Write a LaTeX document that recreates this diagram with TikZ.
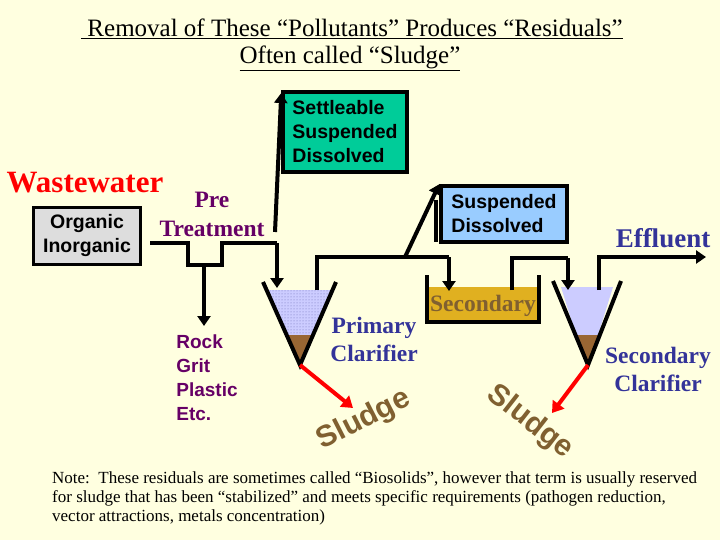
\documentclass[tikz,border=0pt]{standalone}
\usepackage{fontspec}
\setmainfont{Liberation Serif}
\setsansfont{Liberation Sans}
\usetikzlibrary{patterns,arrows.meta}
\definecolor{bg}{RGB}{255,255,224}
\definecolor{teal1}{RGB}{0,204,153}
\definecolor{lblue}{RGB}{153,204,255}
\definecolor{lgrey}{RGB}{221,221,221}
\definecolor{gold}{RGB}{224,176,32}
\definecolor{mud}{RGB}{153,102,51}
\definecolor{lav}{RGB}{204,204,255}
\definecolor{purp}{RGB}{102,0,102}
\definecolor{navy}{RGB}{51,51,153}
\definecolor{brn}{RGB}{128,96,48}
\tikzset{
  flow/.style={line width=4pt,-{Triangle[length=10pt,width=13pt]}},
  pipe/.style={line width=4pt},
  sbox/.style={draw,line width=3.5pt,align=left,font=\sffamily\bfseries\fontsize{19.5}{24}\selectfont,inner sep=2pt},
  lbl/.style={align=center},
  slab/.style={font=\sffamily\bfseries\fontsize{19}{24}\selectfont,align=left,text=purp},
  red/.style={draw=red,line width=4pt,-{Triangle[length=11pt,width=14pt]}}
}
\begin{document}
\begin{tikzpicture}[x=1pt,y=1pt]
\fill[bg] (0,0) rectangle (720,-540);
\useasboundingbox (0,0) rectangle (720,-540);
% title
\node (t1) at (352,-29) {\fontsize{25}{28}\selectfont\underline{\ Removal of These “Pollutants” Produces “Residuals”}};
\node (t2) at (350,-58) {\fontsize{25}{28}\selectfont\underline{Often called “Sludge”}};
% boxes
\node[sbox,fill=teal1,minimum width=124pt,minimum height=80pt] (set) at (345,-132) {Settleable\\Suspended\\Dissolved};
\node[sbox,fill=lblue,minimum width=126pt,minimum height=56pt] (sus) at (504,-214) {Suspended\\Dissolved};
\node[sbox,fill=lgrey,line width=2.5pt,align=center,minimum width=107pt,minimum height=57pt] (org) at (87,-236) {Organic\\Inorganic};
\node[lbl,text=red,font=\bfseries\fontsize{31}{34}\selectfont] (ww) at (85,-183) {Wastewater};
\node[lbl,text=purp,font=\fontsize{23.5}{29}\selectfont\bfseries] (pre) at (212,-214) {Pre\\Treatment};
\node[slab] (rock) at (207,-378) {Rock\\Grit\\Plastic\\Etc.};
\node[lbl,text=navy,font=\fontsize{23.5}{28}\selectfont\bfseries] (pc) at (374,-339) {Primary\\Clarifier};
\node[lbl,text=navy,font=\fontsize{23.5}{28}\selectfont\bfseries] (sc) at (658,-369) {Secondary\\Clarifier};
\node[lbl,text=navy,font=\fontsize{27}{30}\selectfont\bfseries] (eff) at (663,-238) {Effluent};
% primary clarifier
\fill[lav] (266,-290) -- (333,-290) -- (314,-335) -- (286,-335) -- cycle;
\fill[pattern=dots,pattern color=navy!70] (266,-290) -- (333,-290) -- (314,-335) -- (286,-335) -- cycle;
\fill[mud] (286,-335) -- (314,-335) -- (300,-365) -- cycle;
\draw[line width=4pt] (263,-282) -- (300,-365) -- (336,-282);
\coordinate (ptip) at (300,-365);
% secondary tank
\fill[gold] (427,-287) rectangle (539,-321);
\draw[line width=4pt] (427,-275) -- (427,-322) -- (539,-322) -- (539,-275);
\node[font=\bfseries\fontsize{23.5}{26}\selectfont,text=brn] (sec) at (483,-306) {Secondary};
% secondary clarifier
\fill[lav] (561,-287) -- (613,-287) -- (598,-335) -- (576,-335) -- cycle;
\fill[mud] (576,-335) -- (598,-335) -- (588,-365) -- cycle;
\draw[line width=4pt] (553,-281) -- (588,-365) -- (621,-281);
\coordinate (stip) at (588,-365);
% flow lines
\draw[pipe] (150,-243) -- (188,-243) -- (188,-265) -- (222,-265) -- (222,-243) -- (277,-243);
\draw[flow] (277,-243) -- (277,-288);
\draw[flow] (204,-265) -- (204,-326);
\draw[flow] (275,-232) -- (set.west |- 0,-93);
\draw[pipe] (317,-290) -- (317,-257) -- (449,-257);
\draw[flow] (449,-257) -- (449,-291);
\draw[flow] (405,-257) -- (sus.north west);
\draw[pipe] (436,-200) -- (436,-242);
\draw[pipe] (512,-290) -- (512,-258) -- (568,-258);
\draw[flow] (568,-258) -- (568,-290);
\draw[flow] (599,-290) -- (599,-257) -- (706,-257);
% sludge
\coordinate (s1) at (353,-408);
\coordinate (s2) at (552,-413);
\draw[red] (ptip) -- (s1);
\draw[red] (stip) -- (s2);
\node[font=\sffamily\bfseries\fontsize{30}{32}\selectfont,text=brn,rotate=27] (sl1) at (364,-420) {Sludge};
\node[font=\sffamily\bfseries\fontsize{30}{32}\selectfont,text=brn,rotate=-38] (sl2) at (530,-422) {Sludge};
% note
\node[anchor=north west,align=left,font=\fontsize{17}{19}\selectfont,inner sep=0] (note) at (52,-472) {Note:\ \ These residuals are\ sometimes called “Biosolids”, however that term is usually reserved\\for sludge that has been “stabilized” and meets specific requirements (pathogen reduction,\\vector attractions, metals concentration)};
\end{tikzpicture}
\end{document}
